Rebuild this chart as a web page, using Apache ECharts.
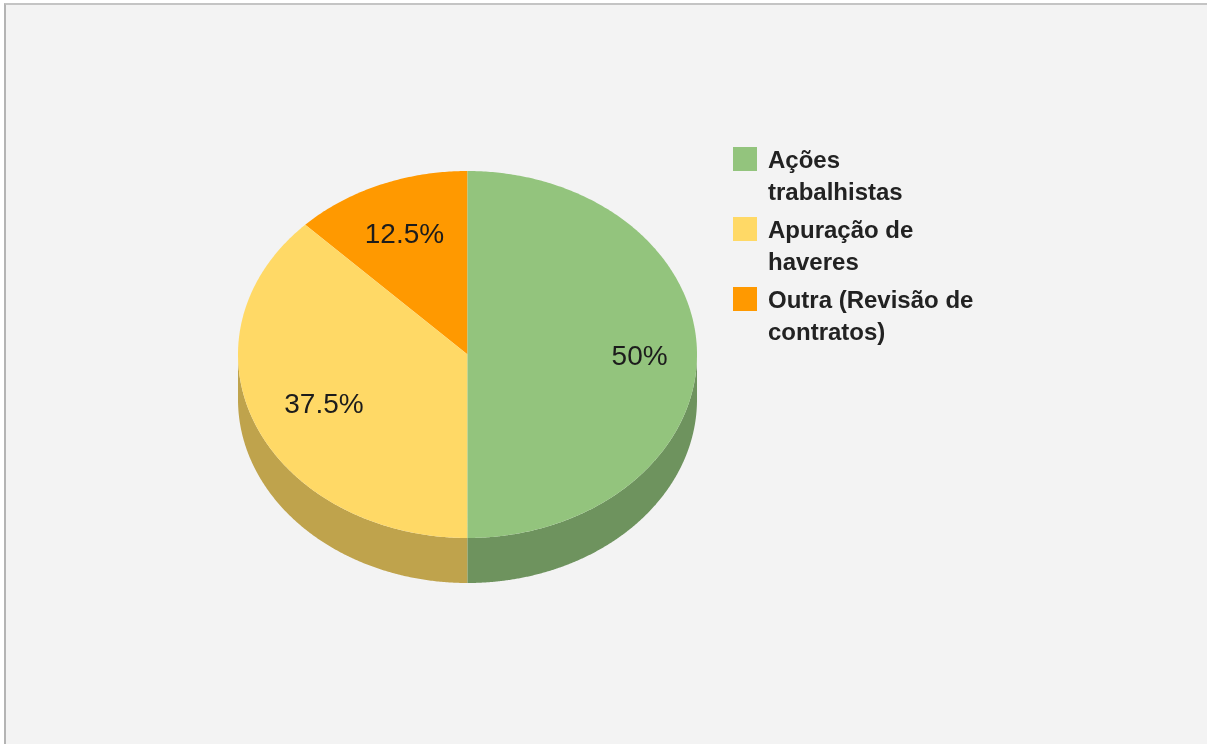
<!DOCTYPE html>
<html>
<head>
<meta charset="utf-8">
<script src="https://cdn.jsdelivr.net/npm/echarts@6/dist/echarts.min.js"></script>
<style>
html, body { margin: 0; padding: 0; background: #fff; width: 100%; height: 100%; overflow: hidden; }
#frame { position: absolute; left: 4px; top: 3px; right: 0; bottom: 0; background: #f3f3f3; border-left: 2px solid #b4b4b4; border-top: 2px solid #c4c4c4; }
#chart { position: absolute; left: 0; top: 0; width: 1207px; height: 744px; }
</style>
</head>
<body>
<div id="frame"></div>
<div id="chart"></div>
<script>
var categories = ['Ações trabalhistas', 'Apuração de haveres', 'Outra (Revisão de contratos)'];
var legendLines = ['Ações\ntrabalhistas', 'Apuração de\nhaveres', 'Outra (Revisão de\ncontratos)'];
var values = [50, 37.5, 12.5];
var percentLabels = ['50%', '37.5%', '12.5%'];
var topColors = ['#93c47d', '#ffd966', '#ff9900'];
var wallColors = ['#6e935e', '#bfa34c', '#bf7300'];

var labelRadius = [0.75, 0.677, 0.718];
var LABEL_SHIFT_Y = 3;
var CX = 467.5, CY = 354.5, RX = 229.5, RY = 183.5, DEPTH = 45;
var total = values.reduce(function (a, b) { return a + b; }, 0);

function startFraction(index) {
  var s = 0;
  for (var i = 0; i < index; i++) s += values[i];
  return s / total;
}
function pt(theta, dy) {
  return [CX + RX * Math.sin(theta), CY - RY * Math.cos(theta) + (dy || 0)];
}

function makeRender(index) {
  return function (params, api) {
    var a0 = startFraction(index) * 2 * Math.PI;
    var a1 = a0 + api.value(0) / total * 2 * Math.PI;
    var steps = Math.max(2, Math.ceil((a1 - a0) / 0.01));
    var children = [];

    // visible side wall: only the part of the rim on the lower half of the ellipse
    var w0 = Math.max(a0, Math.PI / 2), w1 = Math.min(a1, 3 * Math.PI / 2);
    if (w1 > w0) {
      var wall = [], i, t;
      for (i = 0; i <= steps; i++) { t = w0 + (w1 - w0) * i / steps; wall.push(pt(t, 0)); }
      for (i = steps; i >= 0; i--) { t = w0 + (w1 - w0) * i / steps; wall.push(pt(t, DEPTH)); }
      children.push({ type: 'polygon', z2: 1, shape: { points: wall }, style: { fill: wallColors[index] } });
    }

    // top face
    var top = [[CX, CY]];
    for (var k = 0; k <= steps; k++) top.push(pt(a0 + (a1 - a0) * k / steps, 0));
    children.push({ type: 'polygon', z2: 2, shape: { points: top }, style: { fill: topColors[index] } });

    // percent label
    var mid = (a0 + a1) / 2, f = labelRadius[index];
    children.push({
      type: 'text', z2: 3,
      x: CX + RX * f * Math.sin(mid),
      y: CY - RY * f * Math.cos(mid) + LABEL_SHIFT_Y,
      style: {
        text: percentLabels[index], fill: '#1c1c1c',
        font: '28px "Liberation Sans", Arial, sans-serif',
        textAlign: 'center', textVerticalAlign: 'middle'
      }
    });
    return { type: 'group', children: children };
  };
}

var series = categories.map(function (name, i) {
  return {
    type: 'custom', name: name, coordinateSystem: 'none', silent: true,
    z: i === 0 ? 3 : (i === 1 ? 2 : 1),
    color: topColors[i],
    itemStyle: { color: topColors[i] },
    data: [[values[i]]],
    renderItem: makeRender(i),
    animation: false
  };
});

var chart = echarts.init(document.getElementById('chart'), null, { renderer: 'canvas' });
chart.setOption({
  backgroundColor: 'transparent',
  animation: false,
  legend: {
    orient: 'vertical', left: 733, top: 145.5, padding: 0,
    itemWidth: 24, itemHeight: 64, itemGap: 6, selectedMode: false, symbolKeepAspect: false,
    icon: 'path://M0 0L0.01 0M0 1.5H24V25.5H0ZM0 64L0.01 64',
    data: categories,
    formatter: function (name) { return legendLines[categories.indexOf(name)]; },
    textStyle: {
      color: '#222222', fontFamily: '"Liberation Sans", Arial, sans-serif',
      fontWeight: 'bold', fontSize: 24, lineHeight: 32, padding: [0, 0, 0, 6]
    }
  },
  series: series
});
</script>
</body>
</html>
